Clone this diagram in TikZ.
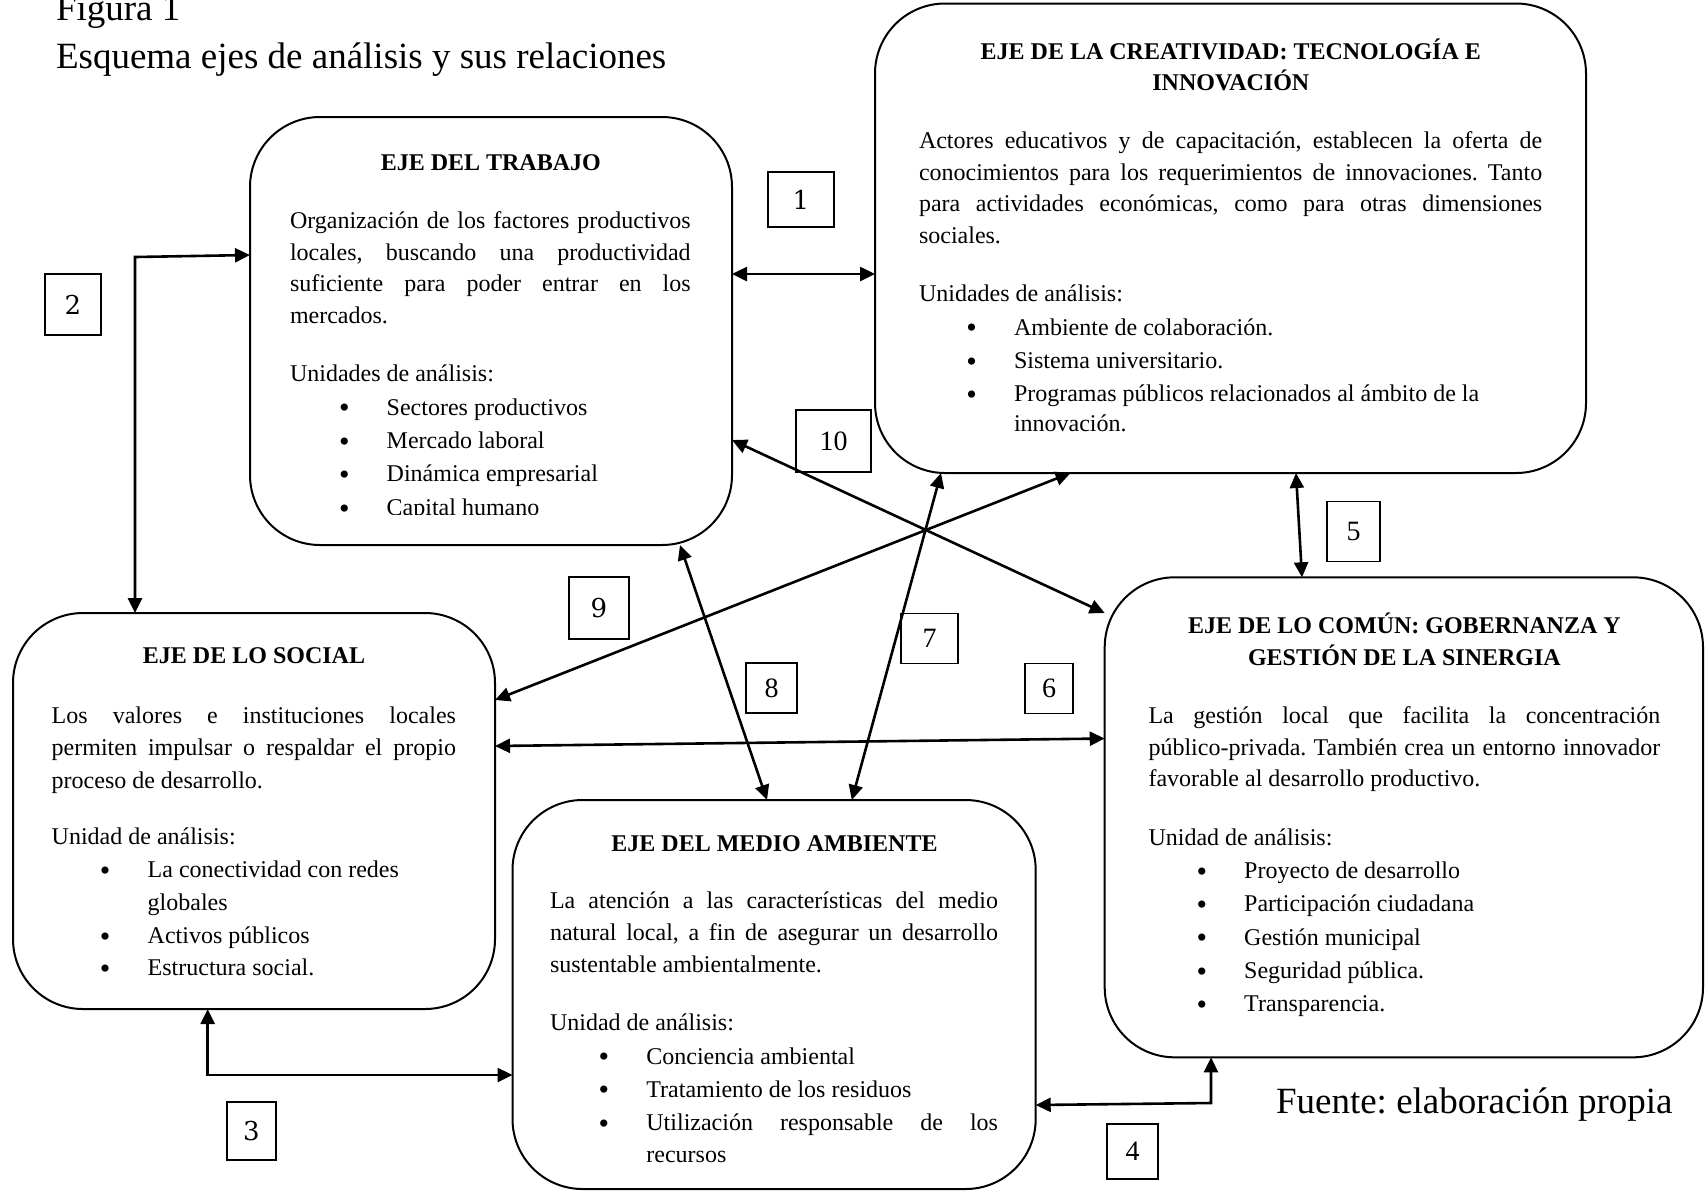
\documentclass[tikz,border=0pt]{standalone}
\usepackage{fontspec}
\setmainfont{Liberation Serif}
\newfontfamily\numfont{DejaVu Serif}
\usetikzlibrary{arrows.meta}
\frenchspacing
\newcommand\jl[2]{\makebox[#1][s]{#2}}
\newcommand\bul{\llap{\raisebox{-1.4pt}{\fontsize{15pt}{15pt}\selectfont\textbullet}\hspace{18.6pt}}}
\begin{document}
\frenchspacing
\begin{tikzpicture}[x=0.5pt,y=-0.5pt,
  box/.style={draw, line width=1pt, rounded corners=35pt, inner sep=0pt, outer sep=0pt},
  numbox/.style={draw, line width=0.75pt, inner sep=0pt, outer sep=0pt, font=\fontsize{14pt}{16pt}\selectfont},
  numboxb/.style={numbox, font=\numfont\fontsize{13pt}{15pt}\selectfont},
  txt/.style={anchor=base west, inner sep=0pt, outer sep=0pt, font=\fontsize{12pt}{14pt}\selectfont},
  ttl/.style={anchor=base, inner sep=0pt, outer sep=0pt, font=\fontsize{12pt}{14pt}\selectfont\bfseries},
  big/.style={anchor=base west, inner sep=0pt, outer sep=0pt, font=\fontsize{18.5pt}{21pt}\selectfont},
  conn/.style={line width=1.3pt, {Triangle[length=7.5pt,width=7pt]}-{Triangle[length=7.5pt,width=7pt]}},
]
\fill[white] (0,0) rectangle (1708,1191);
\useasboundingbox (0,0) rectangle (1708,1191);

% heading and source
\node[big] (fig) at (56,20) {Figura 1};
\node[big] (esq) at (56,68.3) {Esquema ejes de análisis y sus relaciones};
\node[big] (fuente) at (1276,1113) {Fuente: elaboración propia};

% boxes
\node[box, minimum width=241pt, minimum height=214pt] (trab) at (491,331) {};
\node[box, minimum width=355.5pt, minimum height=234.75pt] (crea) at (1230.5,238.25) {};
\node[box, minimum width=241pt, minimum height=198pt] (soc) at (254,811) {};
\node[box, minimum width=261.6pt, minimum height=194.5pt] (medio) at (774.1,994.5) {};
\node[box, minimum width=299.15pt, minimum height=240pt] (comun) at (1403.85,817.3) {};

% EJE DEL TRABAJO
\node[ttl] (trT) at (490.8,170) {EJE DEL TRABAJO};
\node[txt] (tr1) at (290,228.3) {\jl{200.35pt}{Organización de los factores productivos}};
\node[txt] (tr2) at (290,260) {\jl{200.35pt}{locales, buscando una productividad}};
\node[txt] (tr3) at (290,291.7) {\jl{200.35pt}{suficiente para poder entrar en los}};
\node[txt] (tr4) at (290,323.4) {mercados.};
\node[txt] (tr5) at (290,381.7) {Unidades de análisis:};
\node[txt] (tr6) at (386.7,415) {\bul Sectores productivos};
\node[txt] (tr7) at (386.7,448.3) {\bul Mercado laboral};
\node[txt] (tr8) at (386.7,481.7) {\bul Dinámica empresarial};
\begin{scope}
\clip (250,117) rectangle (732,514);
\node[txt] (tr9) at (386.7,515.5) {\bul Capital humano};
\end{scope}

% EJE DE LA CREATIVIDAD
\node[ttl] (crT1) at (1230.8,59.3) {EJE DE LA CREATIVIDAD: TECNOLOGÍA E};
\node[ttl] (crT2) at (1230.8,90.7) {INNOVACIÓN};
\node[txt] (cr1) at (919,148.3) {\jl{311.6pt}{Actores educativos y de capacitación, establecen la oferta de}};
\node[txt] (cr2) at (919,180) {\jl{311.6pt}{conocimientos para los requerimientos de innovaciones. Tanto}};
\node[txt] (cr3) at (919,211.7) {\jl{311.6pt}{para actividades económicas, como para otras dimensiones}};
\node[txt] (cr4) at (919,243.3) {sociales.};
\node[txt] (cr5) at (919,301.7) {Unidades de análisis:};
\node[txt] (cr6) at (1014,335) {\bul Ambiente de colaboración.};
\node[txt] (cr7) at (1014,368.3) {\bul Sistema universitario.};
\node[txt] (cr8) at (1014,401.7) {\bul Programas públicos relacionados al ámbito de la};
\node[txt] (cr9) at (1014,431.7) {innovación.};

% EJE DE LO SOCIAL
\node[ttl] (soT) at (254,663.3) {EJE DE LO SOCIAL};
\node[txt] (so1) at (51.7,723) {\jl{202.15pt}{Los valores e instituciones locales}};
\node[txt] (so2) at (51.7,755.5) {\jl{202.15pt}{permiten impulsar o respaldar el propio}};
\node[txt] (so3) at (51.7,788) {proceso de desarrollo.};
\node[txt] (so4) at (51.7,844.5) {Unidad de análisis:};
\node[txt] (so5) at (147.7,877.5) {\bul La conectividad con redes};
\node[txt] (so6) at (147.7,910) {globales};
\node[txt] (so7) at (147.7,943.5) {\bul Activos públicos};
\node[txt] (so8) at (147.7,975.5) {\bul Estructura social.};

% EJE DEL MEDIO AMBIENTE
\node[ttl] (meT) at (774.5,851.7) {EJE DEL MEDIO AMBIENTE};
\node[txt] (me1) at (550,908.3) {\jl{224pt}{La atención a las características del medio}};
\node[txt] (me2) at (550,940.7) {\jl{224pt}{natural local, a fin de asegurar un desarrollo}};
\node[txt] (me3) at (550,972.7) {sustentable ambientalmente.};
\node[txt] (me4) at (550,1030.5) {Unidad de análisis:};
\node[txt] (me5) at (646.4,1064) {\bul Conciencia ambiental};
\node[txt] (me6) at (646.4,1097) {\bul Tratamiento de los residuos};
\node[txt] (me7) at (646.4,1130.7) {\bul\jl{175.8pt}{Utilización responsable de los}};
\node[txt] (me8) at (646.4,1162) {recursos};

% EJE DE LO COMUN
\node[ttl] (coT1) at (1404.4,633.3) {EJE DE LO COMÚN: GOBERNANZA Y};
\node[ttl] (coT2) at (1404.4,665) {GESTIÓN DE LA SINERGIA};
\node[txt] (co1) at (1148.5,723.3) {\jl{255.9pt}{La gestión local que facilita la concentración}};
\node[txt] (co2) at (1148.5,755) {\jl{255.9pt}{público-privada. También crea un entorno innovador}};
\node[txt] (co3) at (1148.5,786.5) {favorable al desarrollo productivo.};
\node[txt] (co4) at (1148.5,845) {Unidad de análisis:};
\node[txt] (co5) at (1244.2,878.3) {\bul Proyecto de desarrollo};
\node[txt] (co6) at (1244.2,911.7) {\bul Participación ciudadana};
\node[txt] (co7) at (1244.2,945) {\bul Gestión municipal};
\node[txt] (co8) at (1244.2,978.3) {\bul Seguridad pública.};
\node[txt] (co9) at (1244.2,1011.7) {\bul Transparencia.};

% connectors
\draw[conn] (trab.east |- 0,274) -- (crea.west |- 0,274);
\draw[conn] (soc.north -| 135,0) -- (135,257) -- (trab.west |- 0,255);
\draw[conn] (soc.south -| 207.7,0) -- (207.7,1075) -- (medio.west |- 0,1075);
\draw[conn] (comun.south -| 1211,0) -- (1211,1103) -- (medio.east |- 0,1105);
\draw[conn] (crea.south -| 1296,0) -- (comun.north -| 1302,0);
\draw[conn] (soc.east |- 0,746) -- (comun.west |- 0,738.5);
\draw[conn] (crea.south -| 941,0) -- (medio.north -| 851.8,0);
\draw[conn] (trab.south -| 680,0) -- (medio.north -| 767,0);
\draw[conn] (crea.south -| 1070.5,0) -- (soc.east |- 0,700);
\draw[conn] (trab.east |- 0,440) -- (comun.west |- 0,613);

% number labels
\node[numboxb, minimum width=33pt, minimum height=27.5pt] (n1) at (801,199.5) {1};
\node[numboxb, minimum width=28pt, minimum height=30.5pt] (n2) at (73,304.5) {2};
\node[numboxb, minimum width=24.5pt, minimum height=29pt] (n3) at (251.5,1131) {3};
\node[numbox, minimum width=25.5pt, minimum height=27.5pt] (n4) at (1132.5,1151.5) {4};
\node[numbox, minimum width=26.5pt, minimum height=30pt] (n5) at (1353.5,531.5) {5};
\node[numbox, minimum width=24pt, minimum height=25pt] (n6) at (1049,688.3) {6};
\node[numbox, minimum width=28.5pt, minimum height=25pt] (n7) at (929.5,638.3) {7};
\node[numbox, minimum width=25.5pt, minimum height=25pt] (n8) at (771.5,688) {8};
\node[numboxb, minimum width=30pt, minimum height=31pt] (n9) at (599,608) {9};
\node[numbox, minimum width=37.5pt, minimum height=31pt] (n10) at (833.5,441) {10};
\end{tikzpicture}
\end{document}
